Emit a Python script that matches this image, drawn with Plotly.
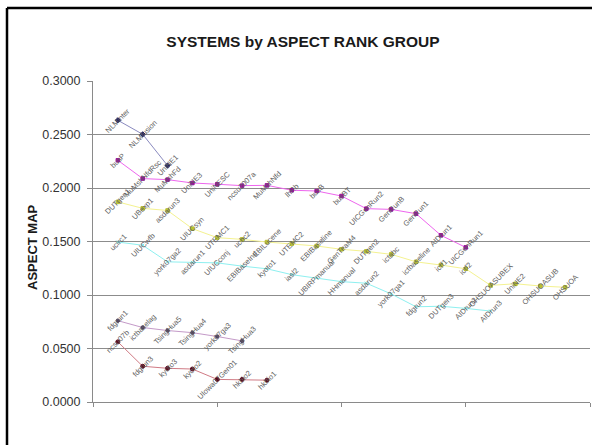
import plotly.graph_objects as go

# ---- data: aspect MAP of each system, ordered by rank inside its group ----
navy_labels = ["NLMinter", "NLMfusion", "UniNE1"]
navy_vals = [0.2633, 0.2502, 0.2210]

magenta_labels = ["busP", "MuMshNfdRsc", "MuMshFd", "UniNE3", "UniNESC", "ncsu2007a",
                  "MuMshNfd", "lhRb", "busB", "busBT", "UICGenRun2", "GenRunB",
                  "GenRun1", "AIDrun1", "UICGenRun1"]
magenta_vals = [0.2259, 0.2088, 0.2078, 0.2047, 0.2035, 0.2022, 0.2025, 0.1979,
                0.1972, 0.1925, 0.1807, 0.1800, 0.1760, 0.1558, 0.1445]

yellow_labels = ["DUTgen1", "UBexp1", "asdarun3", "UIUCsyn", "UTEMC1", "ucbc2",
                 "EBILucene", "UTEMC2", "EBIBaseline", "GenTeaM4", "DUTgen2",
                 "ictabc", "ictbaseline", "ictf1", "ictf2", "OHSUOASUBEX",
                 "UniNE2", "OHSUOASUB", "OHSUOA"]
yellow_vals = [0.1870, 0.1810, 0.1790, 0.1620, 0.1536, 0.1520, 0.1495, 0.1480,
               0.1458, 0.1427, 0.1408, 0.1380, 0.1310, 0.1280, 0.1245, 0.1090,
               0.1105, 0.1084, 0.1072]

cyan_labels = ["ucirc1", "UIUCwfb", "york07ga2", "asdarun1", "UIUCconj", "EBIBaseInd",
               "kyoto1", "iasl2", "UBIRPmanual", "HHmanual", "asdarun2", "york07ga1",
               "fdgrun2", "DUTgen3", "AIDrun2", "AIDrun3"]
cyan_vals = [0.1495, 0.1465, 0.1310, 0.1305, 0.1300, 0.1270, 0.1245, 0.1190,
             0.1160, 0.1125, 0.1110, 0.1010, 0.0890, 0.0895, 0.0875, 0.0850]

purple_labels = ["fdgrun1", "ictbaselag", "TsingHua5", "TsingHua4", "york07ga3", "TsingHua3"]
purple_vals = [0.0760, 0.0696, 0.0668, 0.0648, 0.0612, 0.0571]

maroon_labels = ["ncsu07b", "fdgrun3", "kyoto3", "kyoto2", "UIowa07Gen01", "hkbio2", "hkbio1"]
maroon_vals = [0.0562, 0.0334, 0.0315, 0.0308, 0.0211, 0.0211, 0.0204]

y_ticks = [0.0, 0.05, 0.10, 0.15, 0.20, 0.25, 0.30]
rank_ticks = [0, 5, 10, 15, 20]

# ---- page geometry ----
W, H = 592, 445
ML, MR, MT, MB = 93, 2, 81, 43
PW, PH = W - ML - MR, H - MT - MB


def px_to_paper_x(px):
    return (px - ML) / PW


def px_to_paper_y(py):
    return (H - MB - py) / PH


series = [
    (navy_labels, navy_vals, "#8a8abf", "#22225e", "diamond", 4),
    (magenta_labels, magenta_vals, "#ee66ee", "#9a109c", "square", 3.5),
    (yellow_labels, yellow_vals, "#f4f290", "#b8c030", "square", 3.5),
    (cyan_labels, cyan_vals, "#8ef0f0", "#7ae6e6", "x-thin", 3),
    (purple_labels, purple_vals, "#c49ac8", "#504060", "circle", 3.5),
    (maroon_labels, maroon_vals, "#d07a84", "#5c0a1c", "circle", 4),
]

fig = go.Figure()
label_font = dict(family="Arial, Liberation Sans, sans-serif", size=7.5, color="#606060")

for labels, vals, lc, mc, sym, ms in series:
    ranks = list(range(1, len(vals) + 1))
    fig.add_trace(go.Scatter(
        x=ranks, y=vals, mode="lines+markers",
        line=dict(color=lc, width=1),
        marker=dict(color=mc, symbol=sym, size=ms, line=dict(color=mc, width=1)),
        showlegend=False, hoverinfo="skip",
    ))
    for r, v, t in zip(ranks, vals, labels):
        fig.add_annotation(
            x=r, y=v, text=t, textangle=-45, showarrow=False,
            xanchor="center", yanchor="middle", font=label_font,
        )

# y axis title
fig.add_annotation(
    xref="paper", yref="paper",
    x=px_to_paper_x(32), y=px_to_paper_y(247),
    text="<b>ASPECT MAP</b>", textangle=-90, showarrow=False,
    xanchor="center", yanchor="middle",
    font=dict(family="Arial, Liberation Sans, sans-serif", size=13, color="#1a1a1a"),
)

# outer chart frame (left and top edges)
frame_x = px_to_paper_x(7)
frame_y = px_to_paper_y(8)
fig.add_shape(type="line", xref="paper", yref="paper",
              x0=frame_x, x1=frame_x, y0=frame_y, y1=px_to_paper_y(H),
              line=dict(color="black", width=2.5))
fig.add_shape(type="line", xref="paper", yref="paper",
              x0=frame_x, x1=px_to_paper_x(W), y0=frame_y, y1=frame_y,
              line=dict(color="black", width=2.5))

fig.update_layout(
    width=W, height=H,
    margin=dict(l=ML, r=MR, t=MT, b=MB, pad=0),
    paper_bgcolor="white", plot_bgcolor="white",
    title=dict(
        text="<b>SYSTEMS by ASPECT RANK GROUP</b>",
        xref="paper", yref="container",
        x=px_to_paper_x(303), y=1 - 42 / H,
        xanchor="center", yanchor="middle",
        font=dict(family="Arial, Liberation Sans, sans-serif", size=15.5, color="#1a1a1a"),
    ),
    xaxis=dict(
        range=[0, 20], tickvals=rank_ticks, showticklabels=False,
        ticks="outside", ticklen=4, tickcolor="#8a8a8a", tickwidth=1,
        showline=True, linecolor="#8a8a8a", linewidth=1,
        showgrid=False, zeroline=False,
    ),
    yaxis=dict(
        range=[0, 0.3], tickvals=y_ticks, tickformat=".4f",
        ticks="outside", ticklen=5, tickcolor="#8a8a8a", tickwidth=1,
        ticklabelstandoff=4,
        showline=True, linecolor="#8a8a8a", linewidth=1,
        showgrid=True, gridcolor="#8c8c8c", gridwidth=1.2,
        zeroline=False,
        tickfont=dict(family="Arial, Liberation Sans, sans-serif", size=12.5, color="#333333"),
    ),
)

fig.write_html("out.html")
